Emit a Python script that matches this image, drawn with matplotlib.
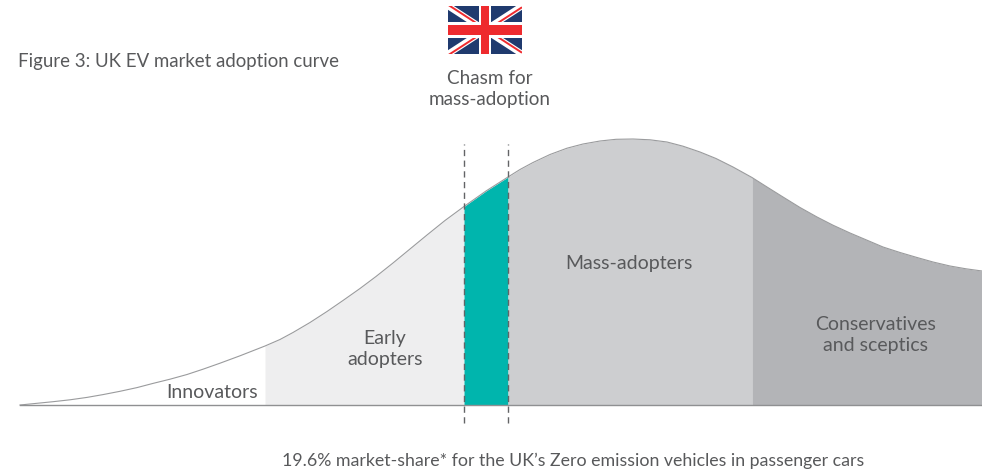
import matplotlib
matplotlib.use("Agg")
import matplotlib.pyplot as plt
import numpy as np
from matplotlib.patches import Rectangle

plt.rcParams['font.family'] = ['Lato', 'DejaVu Sans']

# curve: position along the axis, height above the axis
curve_x = np.array([20, 35, 53, 70, 87, 103, 120, 137, 153, 170, 187, 203, 220, 240, 265, 280, 293,
                    310, 327, 343, 360, 376, 393, 410, 427, 445, 464, 486, 508, 520, 533, 550, 567,
                    583, 600, 616, 633, 650, 667, 683, 700, 716, 733, 752, 767, 783, 800, 817, 833,
                    850, 867, 883, 900, 917, 933, 950, 966, 982])
curve_y = np.array([0, 1.5, 3.3, 5.2, 7.6, 10.4, 13.7, 17.4, 21.6, 25.8, 30.5, 35.8, 41.8, 49.2, 59, 65.5, 72.5,
                    82.5, 93.5, 104.5, 116.5, 128.5, 142, 156, 170, 184.5, 198.5, 214, 228, 235.5, 242.5, 250.5, 256.8,
                    261, 264, 265.7, 266, 265.2, 263, 258.8, 253, 246.5, 238, 227.5, 218, 208, 197.5, 188, 179.8,
                    172, 164.8, 158, 152.5, 147.5, 143, 139, 136.2, 134])

edges = [265, 464, 508, 752, 982]
colours = ["#eeeeef", "#00b5ad", "#cdced0", "#b3b4b7"]
chasm = [464, 508]

text_col = "#58595b"

fig = plt.figure(figsize=(9.82, 4.72), dpi=100)
ax = fig.add_axes([0, 0, 1, 1])
ax.set_xlim(0, 982)
ax.set_ylim(-67, 405)
ax.axis("off")

for i in range(len(colours)):
    keep = (curve_x >= edges[i]) & (curve_x <= edges[i + 1])
    ax.fill_between(curve_x[keep], 0, curve_y[keep], color=colours[i], lw=0, zorder=1)

ax.plot(curve_x, curve_y, color="#9a9b9d", lw=0.8, zorder=2)
ax.plot([20, 982], [0, 0], color="#8f9092", lw=1.0, zorder=3)

for x in chasm:
    ax.plot([x, x], [-18, 261], color="#636466", lw=1.0, dashes=(4.5, 3.2), zorder=4)

ax.text(18, 343, "Figure 3: UK EV market adoption curve", fontsize=13.4, color=text_col, va="center")
ax.text(490, 316, "Chasm for\nmass-adoption", fontsize=13.6, color=text_col, ha="center", va="center", linespacing=1.32)
ax.text(212, 13, "Innovators", fontsize=14, color=text_col, ha="center", va="center")
ax.text(385, 56, "Early\nadopters", fontsize=14, color=text_col, ha="center", va="center", linespacing=1.32)
ax.text(629, 141.5, "Mass-adopters", fontsize=14, color=text_col, ha="center", va="center")
ax.text(876, 70, "Conservatives\nand sceptics", fontsize=14, color=text_col, ha="center", va="center", linespacing=1.32)
ax.text(573.5, -56, "19.6% market-share* for the UK\u2019s Zero emission vehicles in passenger cars",
        fontsize=12.75, color=text_col, ha="center", va="center")

# flag
fl = fig.add_axes([448 / 982, 1 - 54 / 472, 74 / 982, 48 / 472])
fl.set_xlim(0, 60)
fl.set_ylim(0, 30)
fl.axis("off")
fl.add_patch(Rectangle((0, 0), 60, 30, color="#1f3a6e", lw=0))
fl.plot([0, 60], [0, 30], color="white", lw=4.6, solid_capstyle="butt")
fl.plot([0, 60], [30, 0], color="white", lw=4.6, solid_capstyle="butt")
fl.plot([0, 60], [-0.8, 29.2], color="#ee2a2e", lw=1.4, solid_capstyle="butt")
fl.plot([0, 60], [30.8, 0.8], color="#ee2a2e", lw=1.4, solid_capstyle="butt")
fl.add_patch(Rectangle((25, 0), 10, 30, color="white", lw=0, zorder=3))
fl.add_patch(Rectangle((0, 10), 60, 10, color="white", lw=0, zorder=3))
fl.add_patch(Rectangle((27, 0), 6, 30, color="#ee2a2e", lw=0, zorder=4))
fl.add_patch(Rectangle((0, 12), 60, 6, color="#ee2a2e", lw=0, zorder=4))

fig.savefig("out.png", dpi=100)
